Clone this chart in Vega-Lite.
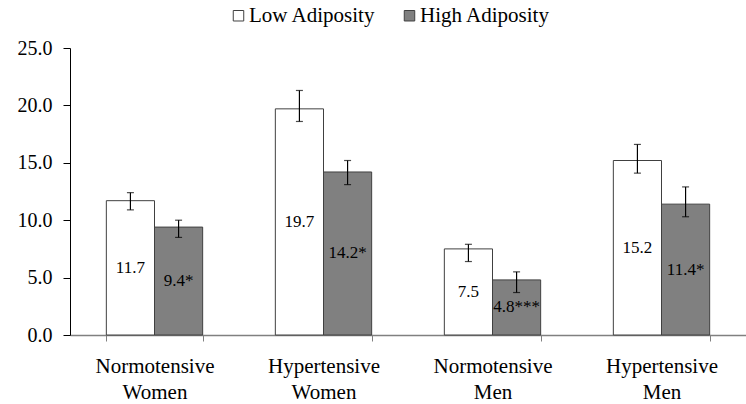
{
  "$schema": "https://vega.github.io/schema/vega-lite/v6.json",
  "autosize": {"type": "none"},
  "width": 676,
  "height": 287,
  "padding": {"left": 70, "top": 48, "right": 0, "bottom": 69},
  "background": "white",
  "config": {
    "view": {"stroke": null},
    "font": "Liberation Serif, serif",
    "text": {"font": "Liberation Serif, serif"},
    "axis": {"grid": false, "labelFont": "Liberation Serif, serif", "labelColor": "black"},
    "legend": {"labelFont": "Liberation Serif, serif"}
  },
  "data": {
    "values": [
      {"group": "Normotensive Women", "adiposity": "Low Adiposity", "value": 11.7, "lo": 10.9, "hi": 12.4, "label": "11.7"},
      {"group": "Normotensive Women", "adiposity": "High Adiposity", "value": 9.4, "lo": 8.5, "hi": 10.0, "label": "9.4*"},
      {"group": "Hypertensive Women", "adiposity": "Low Adiposity", "value": 19.7, "lo": 18.6, "hi": 21.3, "label": "19.7"},
      {"group": "Hypertensive Women", "adiposity": "High Adiposity", "value": 14.2, "lo": 13.1, "hi": 15.2, "label": "14.2*"},
      {"group": "Normotensive Men", "adiposity": "Low Adiposity", "value": 7.5, "lo": 6.4, "hi": 7.9, "label": "7.5"},
      {"group": "Normotensive Men", "adiposity": "High Adiposity", "value": 4.8, "lo": 3.7, "hi": 5.5, "label": "4.8***"},
      {"group": "Hypertensive Men", "adiposity": "Low Adiposity", "value": 15.2, "lo": 14.1, "hi": 16.6, "label": "15.2"},
      {"group": "Hypertensive Men", "adiposity": "High Adiposity", "value": 11.4, "lo": 10.3, "hi": 12.9, "label": "11.4*"}
    ]
  },
  "encoding": {
    "x": {
      "field": "group",
      "type": "nominal",
      "sort": ["Normotensive Women", "Hypertensive Women", "Normotensive Men", "Hypertensive Men"],
      "scale": {"paddingInner": 0.43, "paddingOuter": 0.215},
      "axis": {
        "title": null,
        "labelAngle": 0,
        "labelExpr": "split(datum.label, ' ')",
        "labelFontSize": 21,
        "labelLineHeight": 26,
        "labelPadding": 14,
        "labelBaseline": "top",
        "tickBand": "extent",
        "tickSize": 6,
        "tickColor": "#808080",
        "domainColor": "#808080",
        "domainWidth": 1.5
      }
    },
    "xOffset": {
      "field": "adiposity",
      "type": "nominal",
      "sort": ["Low Adiposity", "High Adiposity"],
      "scale": {"paddingInner": 0, "paddingOuter": 0}
    }
  },
  "layer": [
    {
      "mark": {"type": "bar", "stroke": "#404040", "strokeWidth": 1},
      "encoding": {
        "y": {
          "field": "value",
          "type": "quantitative",
          "scale": {"domain": [0, 25], "nice": false},
          "axis": {
            "title": null,
            "values": [0, 5, 10, 15, 20, 25],
            "format": ".1f",
            "labelFontSize": 20,
            "tickSize": 7,
            "labelPadding": 11,
            "tickColor": "black",
            "domainColor": "black"
          }
        },
        "fill": {
          "field": "adiposity",
          "type": "nominal",
          "sort": ["Low Adiposity", "High Adiposity"],
          "scale": {"range": ["white", "#808080"]},
          "legend": {
            "title": null,
            "orient": "none",
            "direction": "horizontal",
            "legendX": 158,
            "legendY": -43,
            "symbolType": "square",
            "symbolSize": 110,
            "symbolStrokeColor": "#404040",
            "symbolStrokeWidth": 1,
            "labelFontSize": 21,
            "labelColor": "black",
            "labelOffset": 0,
            "columnPadding": 23
          }
        }
      }
    },
    {
      "mark": {"type": "rule", "color": "black", "strokeWidth": 1.2},
      "encoding": {
        "y": {"field": "lo", "type": "quantitative"},
        "y2": {"field": "hi"}
      }
    },
    {
      "mark": {"type": "tick", "color": "black", "size": 7, "thickness": 1.2},
      "encoding": {"y": {"field": "lo", "type": "quantitative"}}
    },
    {
      "mark": {"type": "tick", "color": "black", "size": 7, "thickness": 1.2},
      "encoding": {"y": {"field": "hi", "type": "quantitative"}}
    },
    {
      "transform": [{"calculate": "datum.value / 2", "as": "mid"}],
      "mark": {"type": "text", "fontSize": 17, "color": "black"},
      "encoding": {
        "y": {"field": "mid", "type": "quantitative"},
        "text": {"field": "label"}
      }
    }
  ]
}
